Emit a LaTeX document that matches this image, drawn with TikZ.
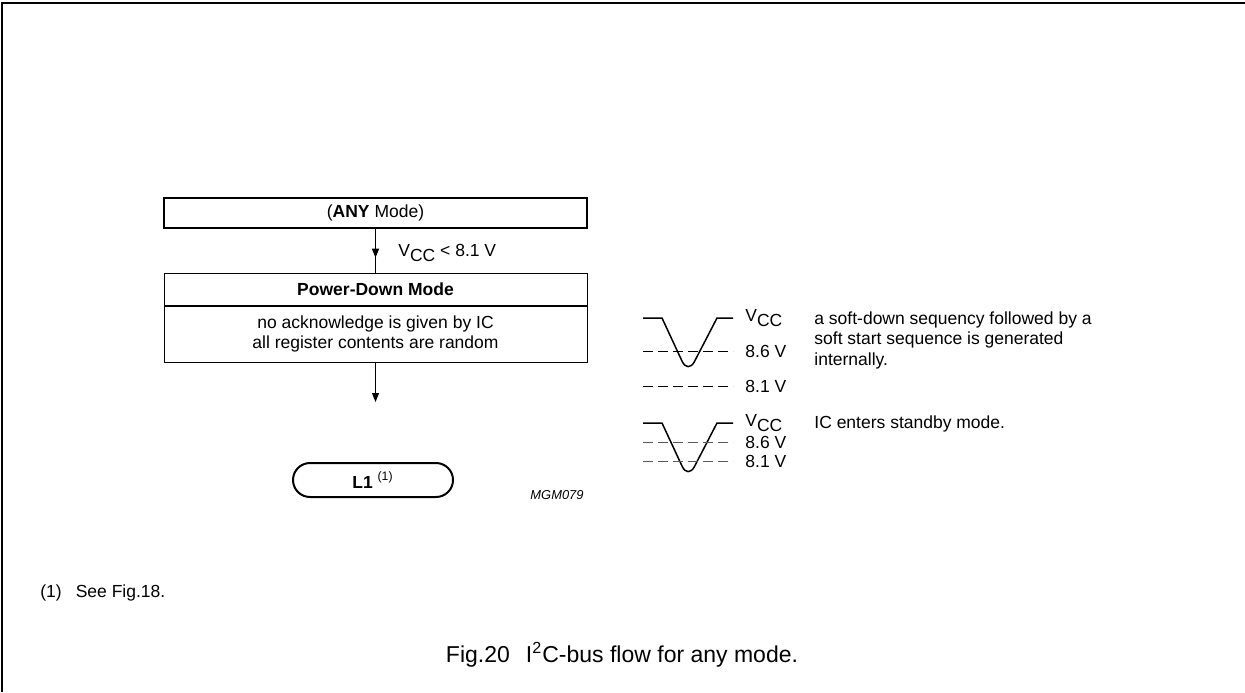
\documentclass[tikz,border=0pt]{standalone}
\usepackage{fontspec}
\setmainfont{Liberation Sans}
\usetikzlibrary{arrows.meta, positioning, decorations.markings}
\newcommand{\vcc}{V\raisebox{-0.45ex}{CC}}

\begin{document}
\begin{tikzpicture}[
  x=0.5pt, y=-0.5pt,
  txt/.style={font=\fontsize{8.75}{10.25}\selectfont, inner sep=0pt},
  modebox/.style={draw, line width=1pt, minimum width=211.5pt,
                  minimum height=15pt, txt},
  pdbox/.style={draw, line width=0.5pt, minimum width=211.5pt,
                txt, align=center},
  endbox/.style={draw, line width=1pt, rounded corners=8.5pt,
                 minimum width=80pt, minimum height=17pt, txt},
  arr/.style={line width=0.5pt, -{Triangle[length=4.5pt, width=3.5pt]}},
  midarr/.style={line width=0.5pt, postaction={decorate},
    decoration={markings, mark=at position 0.66 with
      {\arrow{Triangle[length=4.5pt, width=3.5pt]}}}},
  wave/.style={line width=0.75pt},
  lvl/.style={line width=0.5pt, dash pattern=on 5pt off 2.5pt}
]
\useasboundingbox (0,0) rectangle (1245,692);
\draw[line width=1pt] (1245,3) -- (2,3) -- (2,692);

\node[modebox] (anymode) at (375.5,213) {(\textbf{ANY} Mode)};
\node[pdbox, minimum height=16pt] (pdtitle) at (375.5,289) {\textbf{Power-Down Mode}};
\node[pdbox, minimum height=28pt, below=0pt of pdtitle] (pdbody)
  {no acknowledge is given by IC\\ all register contents are random};
\coordinate (pdout) at (375.5,402);
\node[endbox] (lone) at (373,480) {\textbf{L1}\ \textsuperscript{(1)}};

\draw[midarr] (anymode) -- (pdtitle);
\node[txt, anchor=west] (vcclbl) at (398,253) {\vcc{} < 8.1 V};
\draw[arr] (pdbody) -- (pdout);

\node[font=\fontsize{6.45}{7}\itshape, inner sep=0pt] (mgm) at (557,495) {MGM079};

\draw[wave] (643,318) -- (662,318) [rounded corners=7pt] -- (688,374)
  [sharp corners] -- (717,318) -- (733,318);
\draw[lvl] (643,351) -- (733,351);
\draw[lvl] (643,386) -- (733,386);
\node[txt, anchor=west] (vccone) at (745,318) {\vcc};
\node[txt, anchor=west] (hione) at (745,351) {8.6 V};
\node[txt, anchor=west] (loone) at (745,386) {8.1 V};

\draw[wave] (643,423) -- (662,423) [rounded corners=7pt] -- (688,479)
  [sharp corners] -- (717,423) -- (733,423);
\draw[lvl, black!65] (643,442) -- (733,442);
\draw[lvl, black!65] (643,461) -- (733,461);
\node[txt, anchor=west] (vcctwo) at (745,423) {\vcc};
\node[txt, anchor=west] (hitwo) at (745,442) {8.6 V};
\node[txt, anchor=west] (lotwo) at (745,461) {8.1 V};

\node[txt, anchor=north west, align=left] (softtxt) at (814,311)
  {a soft-down sequency followed by a\\ soft start sequence is generated\\ internally.};
\node[txt, anchor=base west] (stbytxt) at (814,428) {IC enters standby mode.};

\node[txt, anchor=west] (note) at (40,593) {(1)\hspace{0.8em}See Fig.18.};
\node[font=\fontsize{11.5}{13}\selectfont, inner sep=0pt] (caption) at (622,655)
  {Fig.20\hspace{0.7em}I\textsuperscript{2}C-bus flow for any mode.};
\end{tikzpicture}
\end{document}
